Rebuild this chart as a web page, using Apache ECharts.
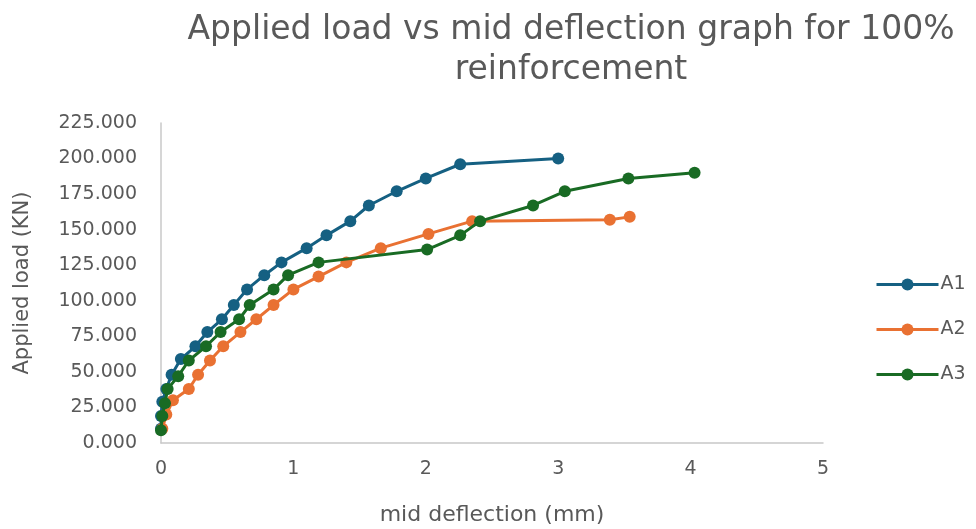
<!DOCTYPE html>
<html>
<head>
<meta charset="utf-8">
<script src="https://cdn.jsdelivr.net/npm/echarts@6/dist/echarts.min.js"></script>
<style>
  html, body { margin: 0; padding: 0; background: #ffffff; }
  #chart { width: 976px; height: 529px; }
</style>
</head>
<body>
<div id="chart"></div>
<script>
// Load–deflection readings for the three beams (deflection in mm, load in kN)
const seriesNames = ['A1', 'A2', 'A3'];

const a1Deflection = [0.00, 0.00, 0.01, 0.04, 0.08, 0.15, 0.26, 0.35, 0.46, 0.55, 0.65, 0.78, 0.91, 1.10, 1.25, 1.43, 1.57, 1.78, 2.00, 2.26, 3.00];
const a1Load       = [10, 19, 29, 38, 48, 59, 68, 78, 87, 97, 108, 118, 127, 137, 146, 156, 167, 177, 186, 196, 200];

const a2Deflection = [0.01, 0.04, 0.09, 0.21, 0.28, 0.37, 0.47, 0.60, 0.72, 0.85, 1.00, 1.19, 1.40, 1.66, 2.02, 2.35, 3.39, 3.54];
const a2Load       = [10, 20, 30, 38, 48, 58, 68, 78, 87, 97, 108, 117, 127, 137, 147, 156, 157, 159];

const a3Deflection = [0.00, 0.01, 0.03, 0.05, 0.13, 0.21, 0.34, 0.45, 0.59, 0.67, 0.85, 0.96, 1.19, 2.01, 2.26, 2.41, 2.81, 3.05, 3.53, 4.03];
const a3Load       = [9, 19, 28, 38, 47, 58, 68, 78, 87, 97, 108, 118, 127, 136, 146, 156, 167, 177, 186, 190];

const seriesColors = ['#156082', '#E97132', '#196B24'];

const xTicks = { min: 0, max: 5, interval: 1 };
const yTicks = { min: 0, max: 225, interval: 25 };

function pairs(xs, ys) {
  return xs.map((x, i) => [x, ys[i]]);
}

const FONT = 'DejaVu Sans';
const TEXT = '#595959';

const chart = echarts.init(document.getElementById('chart'), null, { renderer: 'canvas' });

const datasets = [
  pairs(a1Deflection, a1Load),
  pairs(a2Deflection, a2Load),
  pairs(a3Deflection, a3Load)
];

chart.setOption({
  animation: false,
  backgroundColor: '#ffffff',
  title: {
    text: 'Applied load vs mid deflection graph for 100%\nreinforcement',
    left: 566,
    top: 5,
    textAlign: 'center',
    textStyle: {
      fontFamily: FONT,
      fontSize: 33,
      fontWeight: 'normal',
      color: TEXT,
      lineHeight: 40
    }
  },
  legend: {
    orient: 'vertical',
    left: 875,
    top: 275,
    padding: 0,
    itemWidth: 62,
    itemHeight: 15,
    itemGap: 26,
    lineStyle: { width: 3 },
    textStyle: { fontFamily: FONT, fontSize: 19, color: TEXT, padding: [0, 0, 0, -3] },
    data: seriesNames
  },
  grid: { left: 161, right: 153, top: 123, bottom: 86, outerBoundsMode: 'none', containLabel: false },
  xAxis: {
    type: 'value',
    min: xTicks.min,
    max: xTicks.max,
    interval: xTicks.interval,
    name: 'mid deflection (mm)',
    nameLocation: 'middle',
    nameGap: 61,
    nameTextStyle: { fontFamily: FONT, fontSize: 22, color: TEXT },
    axisLine: { show: true, lineStyle: { color: '#c8c8c8', width: 1.5 } },
    axisTick: { show: false },
    splitLine: { show: false },
    axisLabel: { fontFamily: FONT, fontSize: 19, color: TEXT, margin: 17 }
  },
  yAxis: {
    type: 'value',
    min: yTicks.min,
    max: yTicks.max,
    interval: yTicks.interval,
    name: 'Applied load (KN)',
    nameLocation: 'middle',
    nameGap: 128,
    nameTextStyle: { fontFamily: FONT, fontSize: 21, color: TEXT },
    axisLine: { show: true, lineStyle: { color: '#c8c8c8', width: 1.5 } },
    axisTick: { show: false },
    splitLine: { show: false },
    axisLabel: {
      fontFamily: FONT,
      fontSize: 19,
      color: TEXT,
      margin: 24,
      formatter: v => v.toFixed(3)
    }
  },
  series: seriesNames.map((name, i) => ({
    name: name,
    type: 'line',
    data: datasets[i],
    color: seriesColors[i],
    symbol: 'circle',
    symbolSize: 12,
    lineStyle: { width: 3, color: seriesColors[i] },
    itemStyle: { color: seriesColors[i] },
    z: 2 + i
  }))
});
</script>
</body>
</html>
